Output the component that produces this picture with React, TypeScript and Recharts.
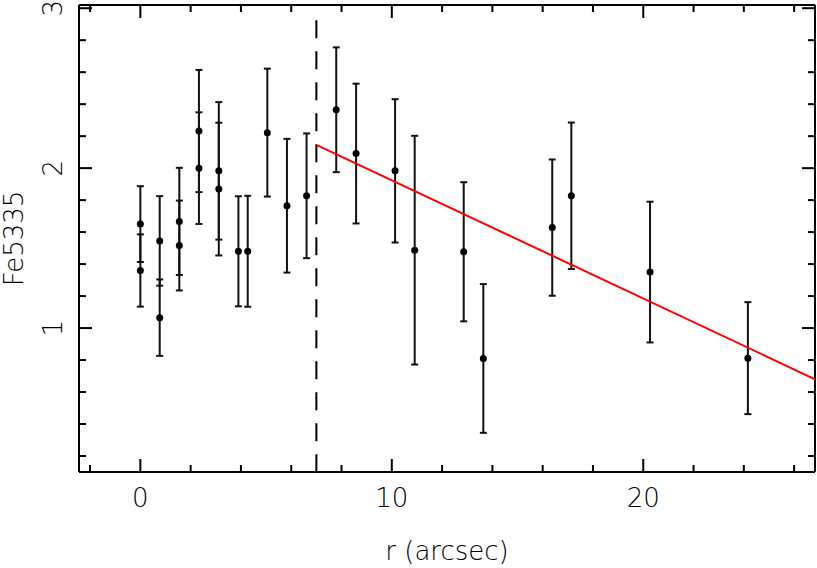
import {
  ScatterChart,
  Scatter,
  XAxis,
  YAxis,
  ErrorBar,
  ReferenceLine,
} from "recharts";

// radius (arcsec), Fe5335 index and its 1-sigma error
const radius = [
  0, 0, 0.77, 0.77, 1.55, 1.55, 2.33, 2.33, 3.12, 3.12, 3.9, 4.27, 5.05, 5.83,
  6.61, 7.79, 8.58, 10.13, 10.91, 12.86, 13.64, 16.38, 17.14, 20.27, 24.16,
];
const fe5335 = [
  1.65, 1.36, 1.545, 1.065, 1.667, 1.516, 2.232, 2.0, 1.983, 1.869, 1.48, 1.48,
  2.222, 1.765, 1.827, 2.365, 2.091, 1.983, 1.487, 1.477, 0.81, 1.628, 1.827,
  1.35, 0.812,
];
const feErr = [
  0.237, 0.226, 0.28, 0.239, 0.335, 0.281, 0.382, 0.349, 0.43, 0.415, 0.344,
  0.347, 0.4, 0.418, 0.39, 0.39, 0.437, 0.448, 0.715, 0.435, 0.465, 0.426,
  0.458, 0.44, 0.35,
];

// linear fit outside the break radius
const fitR = [7, 26.83];
const fitFe = [2.146, 0.68];

// break radius marker
const breakR = 7;
const breakTop = 2.925;

const xDomain = [-2.44, 26.83];
const yDomain = [0.1, 3.02];
const xTicks = [-2, 0, 2, 4, 6, 8, 10, 12, 14, 16, 18, 20, 22, 24, 26];
const xMajor = [0, 10, 20];
const yTicks = [
  0.2, 0.4, 0.6, 0.8, 1, 1.2, 1.4, 1.6, 1.8, 2, 2.2, 2.4, 2.6, 2.8, 3,
];
const yMajor = [1, 2, 3];

const points = radius.map((r, i) => ({ r, fe: fe5335[i], err: feErr[i] }));
const fitPoints = fitR.map((r, i) => ({ r, fe: fitFe[i] }));

const FONT = "'DejaVu Sans', sans-serif";
const INK = "#000";
const isMajor = (list: number[], v: number) =>
  list.some((m) => Math.abs(m - v) < 1e-6);

function BottomTick({ x, y, payload }: any) {
  const major = isMajor(xMajor, payload.value);
  return (
    <g>
      <line x1={x} y1={y} x2={x} y2={y - (major ? 13 : 7)} stroke={INK} strokeWidth={2} />
      {major && (
        <text x={x} y={y + 35} textAnchor="middle" fontSize={26} fontFamily={FONT} fontWeight={200} fill={INK}>
          {payload.value}
        </text>
      )}
    </g>
  );
}

function TopTick({ x, y, payload }: any) {
  const major = isMajor(xMajor, payload.value);
  return <line x1={x} y1={y} x2={x} y2={y + (major ? 13 : 7)} stroke={INK} strokeWidth={2} />;
}

function LeftTick({ x, y, payload }: any) {
  const major = isMajor(yMajor, payload.value);
  const tx = x - 17;
  return (
    <g>
      <line x1={x} y1={y} x2={x + (major ? 13 : 7)} y2={y} stroke={INK} strokeWidth={2} />
      {major && (
        <text
          x={tx}
          y={y}
          transform={`rotate(-90 ${tx} ${y})`}
          textAnchor="middle"
          fontSize={26}
          fontFamily={FONT}
          fontWeight={200}
          fill={INK}
        >
          {payload.value}
        </text>
      )}
    </g>
  );
}

function RightTick({ x, y, payload }: any) {
  const major = isMajor(yMajor, payload.value);
  return <line x1={x} y1={y} x2={x - (major ? 13 : 7)} y2={y} stroke={INK} strokeWidth={2} />;
}

function XTitle({ viewBox }: any) {
  const cx = viewBox.x + viewBox.width / 2;
  return (
    <text x={cx} y={viewBox.y + 88} textAnchor="middle" fontSize={26} fontFamily={FONT} fontWeight={200} fill={INK}>
      r (arcsec)
    </text>
  );
}

function YTitle({ viewBox }: any) {
  const cy = viewBox.y + viewBox.height / 2;
  const tx = 23;
  return (
    <text
      x={tx}
      y={cy}
      transform={`rotate(-90 ${tx} ${cy})`}
      textAnchor="middle"
      fontSize={26}
      fontFamily={FONT}
      fontWeight={200}
      fill={INK}
    >
      Fe5335
    </text>
  );
}

const axisLine = { stroke: INK, strokeWidth: 2 };

export default function App() {
  return (
    <div style={{ width: 817, height: 568, background: "#fff" }}>
      <style>{"body{margin:0}"}</style>
      <ScatterChart width={817} height={568} margin={{ top: 0, right: 0, bottom: 0, left: 0 }}>
        <XAxis
          xAxisId="b"
          dataKey="r"
          type="number"
          domain={xDomain}
          ticks={xTicks}
          interval={0}
          allowDataOverflow
          height={96}
          tickSize={0}
          tickMargin={0}
          tickLine={false}
          axisLine={axisLine}
          tick={BottomTick}
          label={<XTitle />}
        />
        <XAxis
          xAxisId="t"
          orientation="top"
          dataKey="r"
          type="number"
          domain={xDomain}
          ticks={xTicks}
          interval={0}
          allowDataOverflow
          height={5}
          tickSize={0}
          tickMargin={0}
          tickLine={false}
          axisLine={axisLine}
          tick={TopTick}
        />
        <YAxis
          yAxisId="l"
          dataKey="fe"
          type="number"
          domain={yDomain}
          ticks={yTicks}
          interval={0}
          allowDataOverflow
          width={79}
          tickSize={0}
          tickMargin={0}
          tickLine={false}
          axisLine={axisLine}
          tick={LeftTick}
          label={<YTitle />}
        />
        <YAxis
          yAxisId="r"
          orientation="right"
          dataKey="fe"
          type="number"
          domain={yDomain}
          ticks={yTicks}
          interval={0}
          allowDataOverflow
          width={2}
          tickSize={0}
          tickMargin={0}
          tickLine={false}
          axisLine={axisLine}
          tick={RightTick}
        />
        <ReferenceLine
          xAxisId="b"
          yAxisId="l"
          segment={[
            { x: breakR, y: breakTop },
            { x: breakR, y: yDomain[0] },
          ]}
          stroke={INK}
          strokeWidth={2}
          strokeDasharray="18 13"
        />
        <Scatter
          xAxisId="b"
          yAxisId="l"
          data={fitPoints}
          line={{ stroke: "#ff0000", strokeWidth: 2 }}
          shape={() => <g />}
          isAnimationActive={false}
        />
        <Scatter
          xAxisId="b"
          yAxisId="l"
          data={points}
          fill="#000"
          shape={(p: any) => <circle cx={p.cx} cy={p.cy} r={3.5} fill="#000" />}
          isAnimationActive={false}
        >
          <ErrorBar dataKey="err" direction="y" width={3.5} stroke="#111" strokeWidth={2} isAnimationActive={false} />
        </Scatter>
      </ScatterChart>
    </div>
  );
}
